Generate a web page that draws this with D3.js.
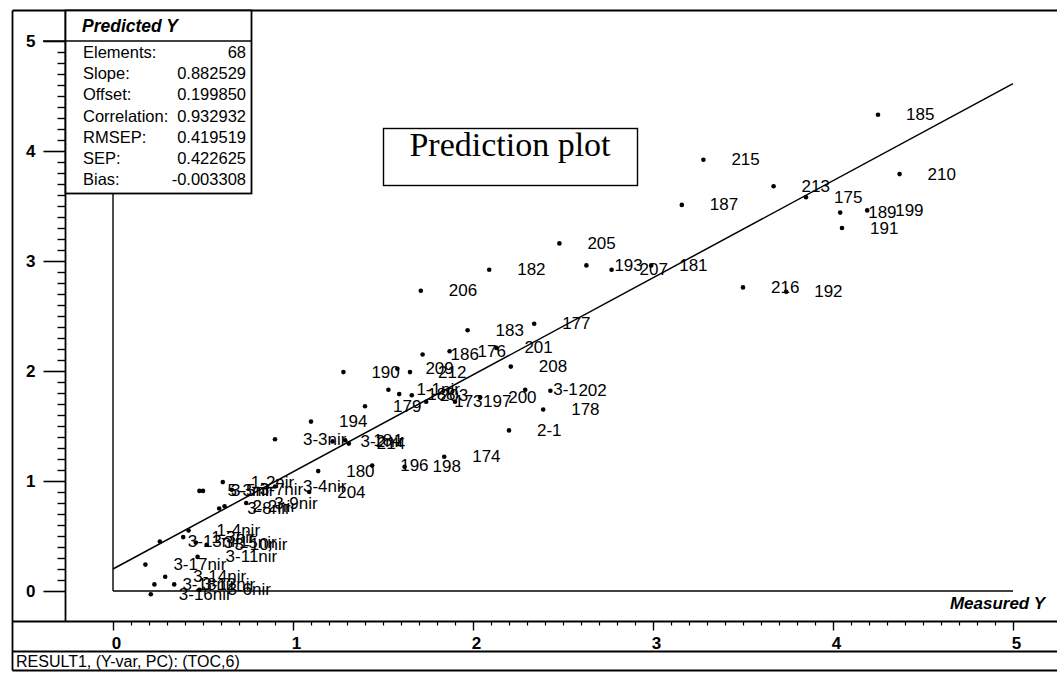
<!DOCTYPE html>
<html><head><meta charset="utf-8">
<script src="https://cdn.jsdelivr.net/npm/d3@7"></script>
<style>body{margin:0;background:#fff}svg{display:block}</style>
</head><body><svg id="c" width="1057" height="673"></svg>
<script>
const names = ["185","215","210","213","175","187","189","199","191","216","192","205","182","193","207","181","206","183","177","186","176","201","208","190","209","212",
"1-1nir","188","203","173","197","200","3-1","202","178","2-1","179",
"194","3-3nir","3-2nir","184","214","180","196","198","174","204",
"1-2nir","3-4nir","5-3nir","3-5nir","3-7nir","3-9nir","3-8nir","2-2nir","1-4nir","3-13nir","1-3nir","3-10nir","3-15nir","3-11nir","3-17nir","3-14nir","3-18nir","3-12nir","3-16nir","3-6nir"];
const measured = [4.25,3.28,4.37,3.67,3.85,3.16,4.04,4.19,4.05,3.50,3.74,2.48,2.09,2.63,2.77,2.99,1.71,1.97,2.34,1.72,1.87,2.13,2.21,1.28,1.58,1.65,
1.53,1.59,1.66,1.74,1.90,2.04,2.29,2.43,2.39,2.20,1.40,
1.10,0.90,1.22,1.29,1.31,1.14,1.44,1.62,1.84,1.09,
0.61,0.90,0.48,0.50,0.66,0.74,0.59,0.62,0.42,0.26,0.39,0.52,0.46,0.47,0.18,0.29,0.23,0.34,0.21,0.48];
const predicted = [4.33,3.92,3.79,3.68,3.58,3.51,3.44,3.46,3.30,2.76,2.72,3.16,2.92,2.96,2.92,2.96,2.73,2.37,2.43,2.15,2.18,2.21,2.04,1.99,2.02,1.99,
1.83,1.79,1.78,1.72,1.72,1.76,1.83,1.82,1.65,1.46,1.68,
1.54,1.38,1.36,1.37,1.34,1.09,1.14,1.13,1.22,0.90,
0.99,0.95,0.91,0.91,0.92,0.80,0.75,0.77,0.55,0.45,0.49,0.42,0.44,0.31,0.24,0.13,0.06,0.06,-0.03,0.01];
const statLabels = ["Elements:","Slope:","Offset:","Correlation:","RMSEP:","SEP:","Bias:"];
const statValues = ["68","0.882529","0.199850","0.932932","0.419519","0.422625","-0.003308"];
const slope = 0.882529, offset = 0.199850;
const xTicks = [0,1,2,3,4,5];
const yTicks = [0,1,2,3,4,5];

const svg = d3.select("#c");
const F = "'Liberation Sans', Arial, sans-serif";
const x = d3.scaleLinear().domain([0,5]).range([113,1013]);
const y = d3.scaleLinear().domain([0,5]).range([591,41]);

const g = svg.append("g").attr("stroke","#000").attr("fill","none");
// frame
const L = 12.5, T = 10.5, R = 1057, B = 670.5, PL = 65.5, PB = 621.5, RB = 651.5;
[[L,T,R,T],[L,T,L,B],[L,B,R,B],[PL,T,PL,PB],[L,PB,R,PB],[L,RB,R,RB]].forEach(l=>
  g.append("line").attr("x1",l[0]).attr("y1",l[1]).attr("x2",l[2]).attr("y2",l[3]).attr("stroke-width",1.8));

// y axis ticks (left panel)
const ya = svg.append("g").attr("transform",`translate(${PL},0)`)
  .call(d3.axisLeft(y).tickValues(yTicks).tickSize(22).tickPadding(8).tickFormat(d3.format("d")));
ya.select(".domain").remove();
ya.selectAll("line").attr("stroke-width",1.6);
ya.selectAll("text").attr("font-family",F).attr("font-size",17).attr("font-weight","bold").attr("fill","#000");
const yMinor = d3.range(0,50).map(i=>i/10).filter(v=>Math.round(v*10)%10!==0);
svg.append("g").attr("transform",`translate(${PL},0)`)
  .call(d3.axisLeft(y).tickValues(yMinor).tickSize(8).tickFormat(""))
  .call(s=>{s.select(".domain").remove(); s.selectAll("line").attr("stroke-width",1.4);});

// x axis ticks (bottom panel)
const xa = svg.append("g").attr("transform",`translate(0,${PB})`)
  .call(d3.axisBottom(x).tickValues(xTicks).tickSize(9).tickPadding(6).tickFormat(d3.format("d")));
xa.select(".domain").remove();
xa.selectAll("line").attr("stroke-width",1.4);
xa.selectAll("text").attr("font-family",F).attr("font-size",17).attr("font-weight","bold").attr("fill","#000").attr("dx",3);
const xMinor = d3.range(0,50).map(i=>i/10).filter(v=>Math.round(v*10)%10!==0);
svg.append("g").attr("transform",`translate(0,${PB})`)
  .call(d3.axisBottom(x).tickValues(xMinor).tickSize(4).tickFormat(""))
  .call(s=>{s.select(".domain").remove(); s.selectAll("line").attr("stroke-width",1.2);});

// inner axes at x=0 and y=0
const BOXB = 193.5, BOXR = 251.5;
g.append("line").attr("x1",x(0)).attr("y1",BOXB).attr("x2",x(0)).attr("y2",y(0)).attr("stroke-width",1.4);
g.append("line").attr("x1",x(0)).attr("y1",y(0)).attr("x2",x(5)).attr("y2",y(0)).attr("stroke-width",1.4);

// regression line
g.append("line").attr("x1",x(0)).attr("y1",y(offset)).attr("x2",x(5)).attr("y2",y(offset+slope*5)).attr("stroke-width",1.5);

// stats box
g.append("rect").attr("x",PL).attr("y",T).attr("width",BOXR-PL).attr("height",BOXB-T).attr("fill","#fff").attr("stroke-width",1.8);
g.append("line").attr("x1",43).attr("y1",y(5)).attr("x2",BOXR).attr("y2",y(5)).attr("stroke-width",1.6);
svg.append("text").attr("x",82).attr("y",26).attr("dominant-baseline","central")
  .attr("font-family",F).attr("font-size",17.5).attr("font-weight","bold").attr("font-style","italic")
  .text("Predicted Y");
const st = svg.append("g").attr("font-family",F).attr("font-size",16.5);
statLabels.forEach((s,i)=>{
  st.append("text").attr("x",83).attr("y",52+i*21.2).attr("dominant-baseline","central").text(s);
  st.append("text").attr("x",246).attr("y",52+i*21.2).attr("dominant-baseline","central").attr("text-anchor","end").text(statValues[i]);
});

// Prediction plot box
g.append("rect").attr("x",383.5).attr("y",128.5).attr("width",254).attr("height",57).attr("stroke-width",1.4);
svg.append("text").attr("x",510).attr("y",144).attr("text-anchor","middle").attr("dominant-baseline","central")
  .attr("font-family","'Liberation Serif','Times New Roman',serif").attr("font-size",34).text("Prediction plot");

// points & labels
const pts = names.map((n,i)=>({n, mx:measured[i], py:predicted[i]}));
svg.append("g").selectAll("circle").data(pts).join("circle")
  .attr("cx",d=>x(d.mx)).attr("cy",d=>y(d.py)).attr("r",2.3).attr("fill","#000");
svg.append("g").attr("font-family",F).attr("font-size",17).selectAll("text").data(pts).join("text")
  .attr("x",d=>x(d.mx)+28).attr("y",d=>y(d.py)).attr("dominant-baseline","central").text(d=>d.n);

// axis titles & footer
svg.append("text").attr("x",1045).attr("y",603).attr("text-anchor","end").attr("dominant-baseline","central")
  .attr("font-family",F).attr("font-size",17).attr("font-weight","bold").attr("font-style","italic").text("Measured Y");
svg.append("text").attr("x",16).attr("y",661).attr("dominant-baseline","central")
  .attr("font-family",F).attr("font-size",16).text("RESULT1, (Y-var, PC): (TOC,6)");
</script></body></html>
